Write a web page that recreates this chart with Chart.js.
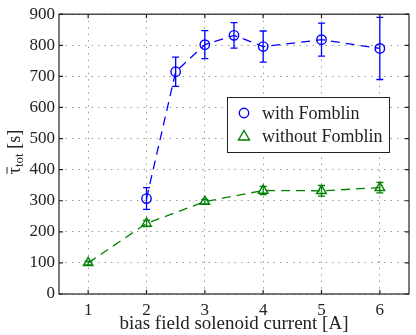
<!DOCTYPE html>
<html>
<head>
<meta charset="utf-8">
<script src="https://cdn.jsdelivr.net/npm/chart.js@4"></script>
<style>
  html, body { margin: 0; padding: 0; background: #fff; }
  #wrap { width: 416px; height: 335px; }
</style>
</head>
<body>
<div id="wrap"><canvas id="chart" width="416" height="335"></canvas></div>
<script>
// data
const xTicks = [1, 2, 3, 4, 5, 6];
const yTicks = [0, 100, 200, 300, 400, 500, 600, 700, 800, 900];

const withCurrent = [2, 2.5, 3, 3.5, 4, 5, 6];
const withTau = [307, 715, 802, 832, 796, 818, 790];
const withErr = [35, 47, 45, 41, 50, 53, 100];

const withoutCurrent = [1, 2, 3, 4, 5, 6];
const withoutTau = [100, 227, 297, 333, 332, 342];
const withoutErr = [6, 10, 7, 13, 17, 17];

const FONT = '"Liberation Serif", "DejaVu Serif", serif';
const BLUE = '#0000ff';
const GREEN = '#008000';

function points(xs, ys) {
    return xs.map((x, i) => ({ x: x, y: ys[i] }));
}

// error bars, drawn through the scales
const errorBars = {
    id: 'errorBars',
    afterDatasetsDraw(chart) {
        const ctx = chart.ctx;
        const xs = chart.scales.x, ys = chart.scales.y;
        chart.data.datasets.forEach(ds => {
            ctx.save();
            ctx.strokeStyle = ds.borderColor;
            ctx.lineWidth = 1.3;
            ds.data.forEach((p, i) => {
                const e = ds.errors[i];
                const px = xs.getPixelForValue(p.x);
                const top = ys.getPixelForValue(p.y + e);
                const bot = ys.getPixelForValue(p.y - e);
                ctx.beginPath();
                ctx.moveTo(px, top); ctx.lineTo(px, bot);
                ctx.moveTo(px - 3.5, top); ctx.lineTo(px + 3.5, top);
                ctx.moveTo(px - 3.5, bot); ctx.lineTo(px + 3.5, bot);
                ctx.stroke();
            });
            ctx.restore();
        });
    }
};

// frame with inner ticks, y title and the legend box inside the plot
const extras = {
    id: 'extras',
    afterDraw(chart) {
        const ctx = chart.ctx;
        const a = chart.chartArea;
        const xs = chart.scales.x, ys = chart.scales.y;
        ctx.save();
        ctx.strokeStyle = '#222';
        ctx.lineWidth = 1.2;
        ctx.strokeRect(a.left, a.top, a.right - a.left, a.bottom - a.top);
        ctx.beginPath();
        xTicks.forEach(v => {
            const px = xs.getPixelForValue(v);
            ctx.moveTo(px, a.bottom); ctx.lineTo(px, a.bottom - 4);
            ctx.moveTo(px, a.top); ctx.lineTo(px, a.top + 4);
        });
        yTicks.forEach(v => {
            const py = ys.getPixelForValue(v);
            ctx.moveTo(a.left, py); ctx.lineTo(a.left + 4, py);
            ctx.moveTo(a.right, py); ctx.lineTo(a.right - 4, py);
        });
        ctx.stroke();

        // y title: tau bar with subscript tot
        ctx.translate(16, 152);
        ctx.rotate(-Math.PI / 2);
        ctx.fillStyle = '#222';
        ctx.strokeStyle = '#222';
        ctx.textBaseline = 'alphabetic';
        const mainFont = '18px ' + FONT;
        const subFont = '13px ' + FONT;
        ctx.font = mainFont;
        const tw = ctx.measureText('\u03c4').width;
        const bw = ctx.measureText(' [s]').width;
        ctx.font = subFont;
        const sw = ctx.measureText('tot').width;
        const x0 = -(tw + sw + bw) / 2;
        ctx.font = mainFont;
        ctx.fillText('\u03c4', x0, 4);
        ctx.beginPath();
        ctx.lineWidth = 1;
        ctx.moveTo(x0 + 0.5, -9); ctx.lineTo(x0 + tw, -9);
        ctx.stroke();
        ctx.font = subFont;
        ctx.fillText('tot', x0 + tw, 7);
        ctx.font = mainFont;
        ctx.fillText(' [s]', x0 + tw + sw, 4);
        ctx.restore();

        // legend
        ctx.save();
        const lx = 227, ly = 97, lw = 162, lh = 55;
        ctx.fillStyle = '#fff';
        ctx.fillRect(lx, ly, lw, lh);
        ctx.strokeStyle = '#222';
        ctx.lineWidth = 1;
        ctx.strokeRect(lx + 0.5, ly + 0.5, lw, lh);
        ctx.font = '18px ' + FONT;
        ctx.fillStyle = '#222';
        ctx.textBaseline = 'middle';
        chart.data.datasets.forEach((ds, i) => {
            const cy = ly + 16 + i * 23;
            const cx = lx + 17;
            ctx.strokeStyle = ds.borderColor;
            ctx.lineWidth = 1.4;
            ctx.beginPath();
            if (ds.pointStyle === 'triangle') {
                ctx.moveTo(cx, cy - 5.5);
                ctx.lineTo(cx + 5.5, cy + 4);
                ctx.lineTo(cx - 5.5, cy + 4);
                ctx.closePath();
            } else {
                ctx.arc(cx, cy, 4.7, 0, Math.PI * 2);
            }
            ctx.stroke();
            ctx.fillText(ds.label, lx + 35, cy + 1);
        });
        ctx.restore();
    }
};

new Chart(document.getElementById('chart').getContext('2d'), {
    type: 'line',
    data: {
        datasets: [
            {
                label: 'with Fomblin',
                data: points(withCurrent, withTau),
                errors: withErr,
                borderColor: BLUE,
                backgroundColor: 'rgba(0,0,0,0)',
                borderWidth: 1.3,
                borderDash: [9, 6],
                pointStyle: 'circle',
                pointRadius: 4.7,
                pointBorderWidth: 1.4,
                pointBackgroundColor: 'rgba(0,0,0,0)',
                pointBorderColor: BLUE
            },
            {
                label: 'without Fomblin',
                data: points(withoutCurrent, withoutTau),
                errors: withoutErr,
                borderColor: GREEN,
                backgroundColor: 'rgba(0,0,0,0)',
                borderWidth: 1.3,
                borderDash: [9, 6],
                pointStyle: 'triangle',
                pointRadius: 5.5,
                pointBorderWidth: 1.4,
                pointBackgroundColor: 'rgba(0,0,0,0)',
                pointBorderColor: GREEN
            }
        ]
    },
    options: {
        responsive: false,
        animation: false,
        layout: { padding: { top: 12, right: 7, left: 0, bottom: 0 } },
        plugins: {
            legend: { display: false },
            tooltip: { enabled: false }
        },
        scales: {
            x: {
                type: 'linear',
                min: 0.5,
                max: 6.5,
                afterBuildTicks: axis => { axis.ticks = xTicks.map(v => ({ value: v })); },
                afterFit: axis => { axis.height = 41; },
                grid: { color: '#9a9a9a', lineWidth: 1, drawTicks: false },
                border: { display: false, dash: [1.5, 5] },
                ticks: { color: '#222', padding: 6, font: { family: FONT, size: 17 } },
                title: {
                    display: true,
                    text: 'bias field solenoid current [A]',
                    color: '#222',
                    padding: { top: 1, bottom: 0 },
                    font: { family: FONT, size: 19 }
                }
            },
            y: {
                min: 0,
                max: 900,
                afterBuildTicks: axis => { axis.ticks = yTicks.map(v => ({ value: v })); },
                afterFit: axis => { axis.width = 59; },
                grid: { color: '#9a9a9a', lineWidth: 1, drawTicks: false },
                border: { display: false, dash: [1.5, 5] },
                ticks: { color: '#222', padding: 4, font: { family: FONT, size: 17 } }
            }
        }
    },
    plugins: [errorBars, extras]
});
</script>
</body>
</html>
